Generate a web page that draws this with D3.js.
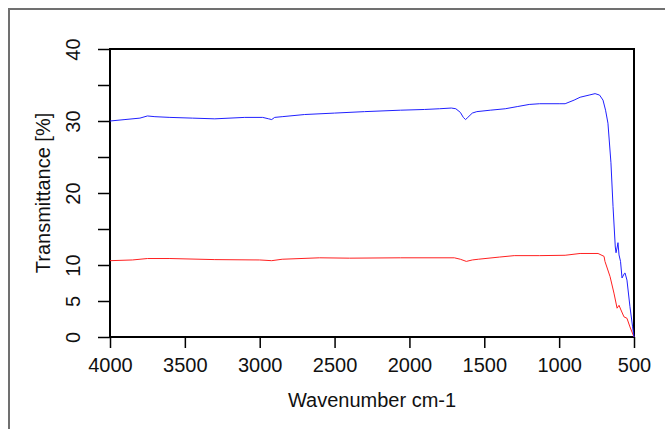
<!DOCTYPE html>
<html lang="en">
<head>
    <meta charset="UTF-8">
    <title>FTIR Transmittance</title>
    <script src="https://d3js.org/d3.v7.min.js"></script>
    <style>
        body { margin: 0; background: #fff; }
        text { font-family: "Liberation Sans", Arial, sans-serif; fill: #111; }
    </style>
</head>
<body>
    <script>
        // Blue spectrum: wavenumber, transmittance
        const blueWave = [4000, 3900, 3800, 3750, 3700, 3600, 3450, 3300, 3100, 2980, 2940, 2920, 2900, 2850, 2700, 2500, 2300, 2060, 1900, 1800, 1720, 1690, 1660, 1640, 1625, 1610, 1580, 1550, 1460, 1360, 1280, 1200, 1130, 1000, 960, 900, 860, 800, 760, 730, 707, 690, 674, 654, 640, 625, 620, 612, 607, 600, 590, 580, 565, 560, 547, 527, 510, 500];
        const blueT = [30.0, 30.2, 30.4, 30.7, 30.6, 30.5, 30.4, 30.3, 30.5, 30.5, 30.3, 30.2, 30.5, 30.6, 30.9, 31.1, 31.3, 31.5, 31.6, 31.7, 31.8, 31.7, 31.2, 30.5, 30.2, 30.5, 31.1, 31.3, 31.5, 31.7, 32.0, 32.3, 32.4, 32.4, 32.4, 32.9, 33.3, 33.6, 33.8, 33.6, 32.9, 31.5, 29.7, 24.2, 18.1, 12.5, 11.7, 12.5, 13.1, 11.4, 10.5, 8.2, 8.8, 8.9, 7.9, 4.2, 1.5, 0];

        // Red spectrum
        const redWave = [4000, 3850, 3750, 3600, 3300, 3000, 2920, 2850, 2600, 2400, 2060, 1700, 1660, 1620, 1580, 1540, 1400, 1300, 1130, 960, 860, 740, 700, 694, 660, 634, 613, 600, 587, 567, 547, 527, 500];
        const redT = [10.6, 10.7, 10.9, 10.9, 10.75, 10.7, 10.6, 10.8, 11.0, 10.95, 11.0, 11.0, 10.8, 10.5, 10.7, 10.8, 11.1, 11.3, 11.3, 11.35, 11.6, 11.6, 11.2, 10.5, 8.4, 6.1, 4.0, 4.4, 3.75, 2.8, 2.6, 1.4, 0];

        const xTicks = [4000, 3500, 3000, 2500, 2000, 1500, 1000, 500];
        const yTicks = [0, 5, 10, 15, 20, 25, 30, 35, 40];
        const yLabels = [0, 5, 10, 20, 30, 40];

        const W = 665, H = 429;
        const margin = { top: 49, right: 31, bottom: 92, left: 110 };
        const width = W - margin.left - margin.right;
        const height = H - margin.top - margin.bottom;

        const svg = d3.select('body')
            .append('svg')
            .attr('width', W)
            .attr('height', H);

        // outer gray border
        svg.append('rect')
            .attr('x', 9).attr('y', 9)
            .attr('width', 700).attr('height', 460)
            .attr('fill', 'none')
            .attr('stroke', '#707070')
            .attr('stroke-width', 2);

        const g = svg.append('g')
            .attr('transform', 'translate(' + margin.left + ',' + margin.top + ')');

        const x = d3.scaleLinear().domain([4000, 500]).range([0, width]);
        const y = d3.scaleLinear().domain([0, 40]).range([height, 0]);

        // x axis
        const xAxis = g.append('g')
            .attr('transform', 'translate(0,' + height + ')')
            .call(d3.axisBottom(x).tickValues(xTicks).tickSize(11).tickPadding(10).tickFormat(d3.format('d')));

        // y axis
        const yAxis = g.append('g')
            .call(d3.axisLeft(y).tickValues(yTicks).tickSize(12).tickPadding(5)
                .tickFormat(d => yLabels.includes(d) ? d : ''));

        [xAxis, yAxis].forEach(a => {
            a.select('.domain').remove();
            a.selectAll('line').attr('stroke', '#000').attr('stroke-width', 1.5);
            a.selectAll('text').style('font-size', '20px').attr('fill', '#111');
        });

        // rotate y labels
        yAxis.selectAll('.tick text')
            .attr('transform', 'rotate(-90)')
            .attr('x', 0)
            .attr('y', -37)
            .attr('dy', '0.35em')
            .style('text-anchor', 'middle');

        // frame
        g.append('rect')
            .attr('width', width).attr('height', height)
            .attr('fill', 'none')
            .attr('stroke', '#000')
            .attr('stroke-width', 2);

        const line = d3.line()
            .x(d => x(d[0]))
            .y(d => y(d[1]));

        g.append('path')
            .datum(redWave.map((w, i) => [w, redT[i]]))
            .attr('fill', 'none')
            .attr('stroke', '#ff2020')
            .attr('stroke-width', 1)
            .attr('d', line);

        g.append('path')
            .datum(blueWave.map((w, i) => [w, blueT[i]]))
            .attr('fill', 'none')
            .attr('stroke', '#2020ff')
            .attr('stroke-width', 1)
            .attr('d', line);

        // axis titles
        g.append('text')
            .attr('x', width / 2)
            .attr('y', height + 70)
            .style('text-anchor', 'middle')
            .style('font-size', '20px')
            .text('Wavenumber cm-1');

        g.append('text')
            .attr('transform', 'rotate(-90)')
            .attr('x', -144)
            .attr('y', -60)
            .style('text-anchor', 'middle')
            .style('font-size', '20px')
            .text('Transmittance [%]');
    </script>
</body>
</html>
